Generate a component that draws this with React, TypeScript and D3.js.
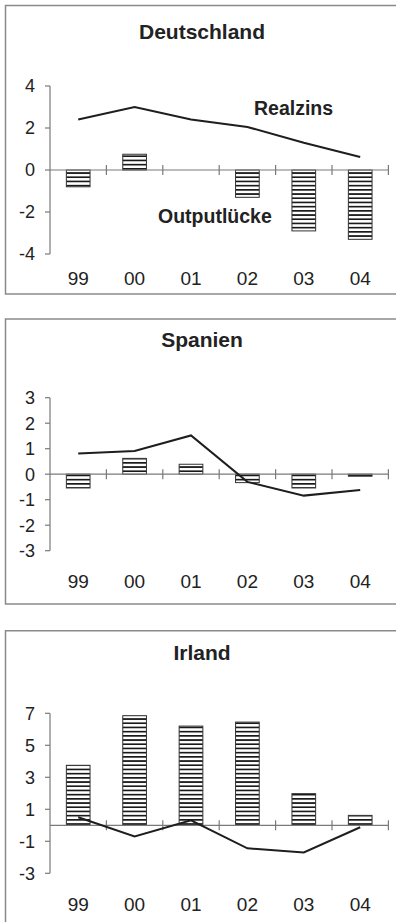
import React from "react";
import * as d3 from "d3";

const years = ["99", "00", "01", "02", "03", "04"];

const deTitle = "Deutschland";
const deOutput = [-0.8, 0.75, 0, -1.3, -2.9, -3.3];
const deReal = [2.4, 3.0, 2.4, 2.05, 1.3, 0.62];
const deTicks = [4, 2, 0, -2, -4];

const esTitle = "Spanien";
const esOutput = [-0.54, 0.62, 0.39, -0.33, -0.54, -0.08];
const esReal = [0.81, 0.91, 1.52, -0.3, -0.84, -0.62];
const esTicks = [3, 2, 1, 0, -1, -2, -3];

const ieTitle = "Irland";
const ieOutput = [3.75, 6.85, 6.2, 6.45, 1.98, 0.62];
const ieReal = [0.5, -0.69, 0.31, -1.44, -1.7, -0.12];
const ieTicks = [7, 5, 3, 1, -1, -3];

const FONT = "'Liberation Sans', Arial, Helvetica, sans-serif";
const TEXT = "#222";
const AXIS = "#7a7a7a";

type PanelProps = {
  title: string;
  output: number[];
  real: number[];
  ticks: number[];
  domain: [number, number];
  yRange: [number, number];
  boxTop: number;
  boxBottom: number | null;
  titleY: number;
  labelY: number;
  showLabels?: boolean;
};

const x = d3.scaleBand<string>().domain(years).range([50, 388.4]).padding(0);

function Panel(p: PanelProps) {
  const y = d3.scaleLinear().domain(p.domain).range(p.yRange);
  const y0 = y(0);
  const bw = x.bandwidth() * 0.42;
  const line = d3
    .line<number>()
    .x((_, i) => (x(years[i]) as number) + x.bandwidth() / 2)
    .y((d) => y(d));
  const boxPath =
    p.boxBottom === null
      ? `M396,${p.boxTop} L5.5,${p.boxTop} L5.5,930`
      : `M396,${p.boxTop} L5.5,${p.boxTop} L5.5,${p.boxBottom} L396,${p.boxBottom}`;
  const boundaries = years.map((yr) => (x(yr) as number) + x.bandwidth());
  return (
    <g>
      <path d={boxPath} fill="none" stroke="#8a8a8a" strokeWidth={1.5} />
      <text
        x={202}
        y={p.titleY}
        textAnchor="middle"
        fontFamily={FONT}
        fontWeight="bold"
        fontSize={21}
        fill={TEXT}
      >
        {p.title}
      </text>
      {/* bars */}
      {p.output.map((v, i) => {
        if (v === 0) return null;
        const cx = (x(years[i]) as number) + x.bandwidth() / 2;
        const top = Math.min(y(v), y0);
        const h = Math.abs(y(v) - y0);
        return (
          <rect
            key={i}
            x={cx - bw / 2}
            y={top}
            width={bw}
            height={Math.max(h, 1.5)}
            fill="url(#hatch)"
            stroke="#333"
            strokeWidth={1}
          />
        );
      })}
      {/* y axis */}
      <line
        x1={50}
        x2={50}
        y1={y(p.domain[1])}
        y2={y(p.domain[0])}
        stroke={AXIS}
        strokeWidth={1.2}
      />
      {p.ticks.map((t) => (
        <g key={t}>
          <line x1={45} x2={50} y1={y(t)} y2={y(t)} stroke={AXIS} strokeWidth={1.2} />
          <text
            x={35}
            y={y(t)}
            dy="0.36em"
            textAnchor="end"
            fontFamily={FONT}
            fontSize={18}
            fill={TEXT}
          >
            {t}
          </text>
        </g>
      ))}
      {/* x axis */}
      <line x1={50} x2={388.4} y1={y0} y2={y0} stroke={AXIS} strokeWidth={1.2} />
      {boundaries.map((b, i) => (
        <line key={i} x1={b} x2={b} y1={y0 - 5} y2={y0 + 5} stroke={AXIS} strokeWidth={1.2} />
      ))}
      {years.map((yr) => (
        <text
          key={yr}
          x={(x(yr) as number) + x.bandwidth() / 2}
          y={p.labelY}
          textAnchor="middle"
          fontFamily={FONT}
          fontSize={19}
          fill={TEXT}
        >
          {yr}
        </text>
      ))}
      <path d={line(p.real) || ""} fill="none" stroke="#1e1e1e" strokeWidth={2} />
      {p.showLabels && (
        <g fontFamily={FONT} fontWeight="bold" fontSize={19.5} fill={TEXT}>
          <text x={254} y={115}>Realzins</text>
          <text x={158} y={222.5}>Outputlücke</text>
        </g>
      )}
    </g>
  );
}

export default function App() {
  return (
    <svg
      width={396}
      height={922}
      style={{ position: "absolute", left: 0, top: 0, background: "#fff" }}
    >
      <defs>
        <pattern id="hatch" patternUnits="userSpaceOnUse" width={8} height={4.2}>
          <rect width={8} height={4.2} fill="#fff" />
          <rect y={0} width={8} height={1.7} fill="#1a1a1a" />
        </pattern>
      </defs>
      <Panel
        title={deTitle}
        output={deOutput}
        real={deReal}
        ticks={deTicks}
        domain={[-4, 4]}
        yRange={[254, 86]}
        boxTop={5.5}
        boxBottom={294}
        titleY={38.5}
        labelY={285}
        showLabels
      />
      <Panel
        title={esTitle}
        output={esOutput}
        real={esReal}
        ticks={esTicks}
        domain={[-3, 3]}
        yRange={[550.7, 397.7]}
        boxTop={319}
        boxBottom={604}
        titleY={346.5}
        labelY={588}
      />
      <Panel
        title={ieTitle}
        output={ieOutput}
        real={ieReal}
        ticks={ieTicks}
        domain={[-3, 7]}
        yRange={[873.3, 713.3]}
        boxTop={630.7}
        boxBottom={null}
        titleY={659.5}
        labelY={911}
      />
    </svg>
  );
}
